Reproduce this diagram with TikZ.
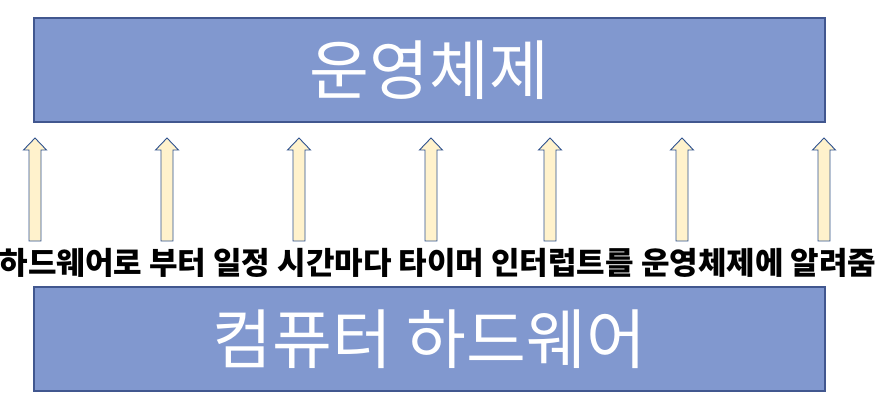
\documentclass[tikz,border=0pt]{standalone}
\usepackage{fontspec}
\newfontfamily\kr{Noto Sans CJK KR}
\definecolor{boxfill}{HTML}{8198CF}
\definecolor{boxline}{HTML}{41578F}
\definecolor{arrfill}{HTML}{FFF2CC}
\definecolor{arrline}{HTML}{2F528F}
\tikzset{
  layerbox/.style={draw=boxline, line width=1.2pt, fill=boxfill, minimum width=791pt, minimum height=104pt, inner sep=0pt, text=white, font=\kr\fontsize{65}{65}\selectfont},
  msg/.style={inner sep=0pt, font=\kr\bfseries\fontsize{31}{31}\selectfont},
  uparrowstyle/.style={draw=arrline, line width=0.9pt, fill=arrfill, line join=miter},
  pics/uparrow/.style={code={
    \path[uparrowstyle] (-6,103) -- (-6,12) -- (-11.5,12) -- (0,0) -- (11.5,12) -- (6,12) -- (6,103) -- cycle;
  }}
}
\begin{document}
\begin{tikzpicture}[x=1pt,y=-1pt]
\useasboundingbox (0,0) rectangle (884,410);
\node[layerbox] (os) at (429.5,70) {운영체제};
\node[layerbox] (hw) at (429.5,339) {컴퓨터 하드웨어};
\node[msg] (txt) at (438,263) {하드웨어로 부터 일정 시간마다 타이머 인터럽트를 운영체제에 알려줌};
\foreach \n/\x in {a1/35,a2/167,a3/299,a4/431,a5/550,a6/682,a7/824}{
  \pic (\n) at (\x,138) {uparrow};
}
\end{tikzpicture}
\end{document}
